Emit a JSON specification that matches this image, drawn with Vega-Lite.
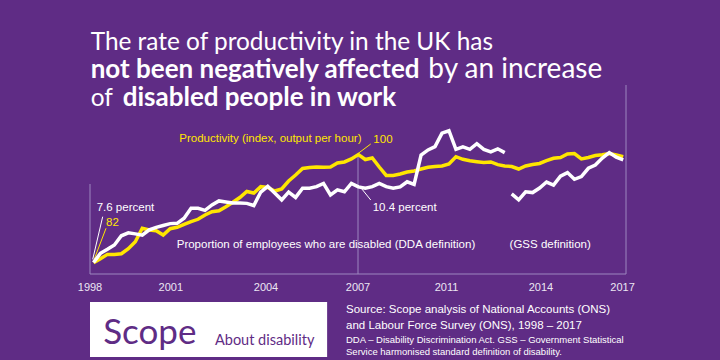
{
  "$schema": "https://vega.github.io/schema/vega-lite/v6.json",
  "width": 536,
  "height": 189,
  "autosize": {"type": "none"},
  "padding": {"left": 90, "top": 85, "right": 94, "bottom": 86},
  "background": "#5f2c85",
  "config": {"view": {"stroke": null}},
  "data": {"name": "series"},
  "datasets": {
    "series": [
      {"q": 0, "series": "productivity", "value": 82.0},
      {"q": 1, "series": "productivity", "value": 82.63},
      {"q": 2, "series": "productivity", "value": 83.37},
      {"q": 3, "series": "productivity", "value": 83.37},
      {"q": 4, "series": "productivity", "value": 83.48},
      {"q": 5, "series": "productivity", "value": 84.32},
      {"q": 6, "series": "productivity", "value": 85.47},
      {"q": 7, "series": "productivity", "value": 87.72},
      {"q": 8, "series": "productivity", "value": 87.43},
      {"q": 9, "series": "productivity", "value": 87.3},
      {"q": 10, "series": "productivity", "value": 86.6},
      {"q": 11, "series": "productivity", "value": 87.65},
      {"q": 12, "series": "productivity", "value": 87.88},
      {"q": 13, "series": "productivity", "value": 88.38},
      {"q": 14, "series": "productivity", "value": 88.82},
      {"q": 15, "series": "productivity", "value": 89.22},
      {"q": 16, "series": "productivity", "value": 89.93},
      {"q": 17, "series": "productivity", "value": 90.48},
      {"q": 18, "series": "productivity", "value": 90.65},
      {"q": 19, "series": "productivity", "value": 91.32},
      {"q": 20, "series": "productivity", "value": 92.05},
      {"q": 21, "series": "productivity", "value": 92.85},
      {"q": 22, "series": "productivity", "value": 93.85},
      {"q": 23, "series": "productivity", "value": 93.6},
      {"q": 24, "series": "productivity", "value": 94.65},
      {"q": 25, "series": "productivity", "value": 94.52},
      {"q": 26, "series": "productivity", "value": 93.93},
      {"q": 27, "series": "productivity", "value": 94.27},
      {"q": 28, "series": "productivity", "value": 95.6},
      {"q": 29, "series": "productivity", "value": 96.6},
      {"q": 30, "series": "productivity", "value": 97.68},
      {"q": 31, "series": "productivity", "value": 97.85},
      {"q": 32, "series": "productivity", "value": 97.93},
      {"q": 33, "series": "productivity", "value": 97.88},
      {"q": 34, "series": "productivity", "value": 97.93},
      {"q": 35, "series": "productivity", "value": 98.6},
      {"q": 36, "series": "productivity", "value": 98.77},
      {"q": 37, "series": "productivity", "value": 99.27},
      {"q": 38, "series": "productivity", "value": 100.0},
      {"q": 39, "series": "productivity", "value": 99.18},
      {"q": 40, "series": "productivity", "value": 99.43},
      {"q": 41, "series": "productivity", "value": 97.93},
      {"q": 42, "series": "productivity", "value": 96.52},
      {"q": 43, "series": "productivity", "value": 96.52},
      {"q": 44, "series": "productivity", "value": 96.77},
      {"q": 45, "series": "productivity", "value": 97.1},
      {"q": 46, "series": "productivity", "value": 97.27},
      {"q": 47, "series": "productivity", "value": 97.6},
      {"q": 48, "series": "productivity", "value": 97.88},
      {"q": 49, "series": "productivity", "value": 98.02},
      {"q": 50, "series": "productivity", "value": 98.1},
      {"q": 51, "series": "productivity", "value": 98.43},
      {"q": 52, "series": "productivity", "value": 99.65},
      {"q": 53, "series": "productivity", "value": 99.22},
      {"q": 54, "series": "productivity", "value": 98.98},
      {"q": 55, "series": "productivity", "value": 98.82},
      {"q": 56, "series": "productivity", "value": 98.68},
      {"q": 57, "series": "productivity", "value": 98.77},
      {"q": 58, "series": "productivity", "value": 98.32},
      {"q": 59, "series": "productivity", "value": 98.1},
      {"q": 60, "series": "productivity", "value": 98.02},
      {"q": 61, "series": "productivity", "value": 97.6},
      {"q": 62, "series": "productivity", "value": 98.1},
      {"q": 63, "series": "productivity", "value": 98.35},
      {"q": 64, "series": "productivity", "value": 98.52},
      {"q": 65, "series": "productivity", "value": 98.98},
      {"q": 66, "series": "productivity", "value": 99.38},
      {"q": 67, "series": "productivity", "value": 99.52},
      {"q": 68, "series": "productivity", "value": 100.1},
      {"q": 69, "series": "productivity", "value": 100.18},
      {"q": 70, "series": "productivity", "value": 99.27},
      {"q": 71, "series": "productivity", "value": 99.52},
      {"q": 72, "series": "productivity", "value": 99.85},
      {"q": 73, "series": "productivity", "value": 99.98},
      {"q": 74, "series": "productivity", "value": 100.18},
      {"q": 75, "series": "productivity", "value": 99.93},
      {"q": 76, "series": "productivity", "value": 99.65},
      {"q": 0, "series": "DDA", "value": 7.6},
      {"q": 1, "series": "DDA", "value": 7.94},
      {"q": 2, "series": "DDA", "value": 8.09},
      {"q": 3, "series": "DDA", "value": 8.25},
      {"q": 4, "series": "DDA", "value": 8.59},
      {"q": 5, "series": "DDA", "value": 8.7},
      {"q": 6, "series": "DDA", "value": 8.66},
      {"q": 7, "series": "DDA", "value": 8.61},
      {"q": 8, "series": "DDA", "value": 8.81},
      {"q": 9, "series": "DDA", "value": 8.9},
      {"q": 10, "series": "DDA", "value": 8.97},
      {"q": 11, "series": "DDA", "value": 9.04},
      {"q": 12, "series": "DDA", "value": 9.05},
      {"q": 13, "series": "DDA", "value": 9.24},
      {"q": 14, "series": "DDA", "value": 9.61},
      {"q": 15, "series": "DDA", "value": 9.61},
      {"q": 16, "series": "DDA", "value": 9.53},
      {"q": 17, "series": "DDA", "value": 9.73},
      {"q": 18, "series": "DDA", "value": 9.88},
      {"q": 19, "series": "DDA", "value": 9.84},
      {"q": 20, "series": "DDA", "value": 9.8},
      {"q": 21, "series": "DDA", "value": 9.8},
      {"q": 22, "series": "DDA", "value": 9.79},
      {"q": 23, "series": "DDA", "value": 9.71},
      {"q": 24, "series": "DDA", "value": 10.21},
      {"q": 25, "series": "DDA", "value": 10.42},
      {"q": 26, "series": "DDA", "value": 10.17},
      {"q": 27, "series": "DDA", "value": 9.92},
      {"q": 28, "series": "DDA", "value": 10.21},
      {"q": 29, "series": "DDA", "value": 10.01},
      {"q": 30, "series": "DDA", "value": 10.35},
      {"q": 31, "series": "DDA", "value": 10.35},
      {"q": 32, "series": "DDA", "value": 10.41},
      {"q": 33, "series": "DDA", "value": 10.53},
      {"q": 34, "series": "DDA", "value": 10.1},
      {"q": 35, "series": "DDA", "value": 10.29},
      {"q": 36, "series": "DDA", "value": 10.22},
      {"q": 37, "series": "DDA", "value": 10.53},
      {"q": 38, "series": "DDA", "value": 10.4},
      {"q": 39, "series": "DDA", "value": 10.35},
      {"q": 40, "series": "DDA", "value": 10.41},
      {"q": 41, "series": "DDA", "value": 10.53},
      {"q": 42, "series": "DDA", "value": 10.41},
      {"q": 43, "series": "DDA", "value": 10.35},
      {"q": 44, "series": "DDA", "value": 10.4},
      {"q": 45, "series": "DDA", "value": 10.59},
      {"q": 46, "series": "DDA", "value": 10.49},
      {"q": 47, "series": "DDA", "value": 11.58},
      {"q": 48, "series": "DDA", "value": 11.77},
      {"q": 49, "series": "DDA", "value": 11.89},
      {"q": 50, "series": "DDA", "value": 12.39},
      {"q": 51, "series": "DDA", "value": 12.48},
      {"q": 52, "series": "DDA", "value": 11.79},
      {"q": 53, "series": "DDA", "value": 11.88},
      {"q": 54, "series": "DDA", "value": 11.79},
      {"q": 55, "series": "DDA", "value": 12.0},
      {"q": 56, "series": "DDA", "value": 11.79},
      {"q": 57, "series": "DDA", "value": 11.7},
      {"q": 58, "series": "DDA", "value": 11.81},
      {"q": 59, "series": "DDA", "value": 11.67},
      {"q": 60, "series": "GSS", "value": 10.14},
      {"q": 61, "series": "GSS", "value": 9.92},
      {"q": 62, "series": "GSS", "value": 10.22},
      {"q": 63, "series": "GSS", "value": 10.19},
      {"q": 64, "series": "GSS", "value": 10.36},
      {"q": 65, "series": "GSS", "value": 10.58},
      {"q": 66, "series": "GSS", "value": 10.47},
      {"q": 67, "series": "GSS", "value": 10.8},
      {"q": 68, "series": "GSS", "value": 10.93},
      {"q": 69, "series": "GSS", "value": 10.68},
      {"q": 70, "series": "GSS", "value": 10.78},
      {"q": 71, "series": "GSS", "value": 11.09},
      {"q": 72, "series": "GSS", "value": 11.21},
      {"q": 73, "series": "GSS", "value": 11.47},
      {"q": 74, "series": "GSS", "value": 11.67},
      {"q": 75, "series": "GSS", "value": 11.5},
      {"q": 76, "series": "GSS", "value": 11.4}
    ],
    "years": [
      {"q": -0.5, "year": "1998"},
      {"q": 11.1, "year": "2001"},
      {"q": 24.75, "year": "2004"},
      {"q": 37.95, "year": "2007"},
      {"q": 50.65, "year": "2011"},
      {"q": 64.2, "year": "2014"},
      {"q": 75.9, "year": "2017"}
    ]
  },
  "layer": [
    {
      "layer": [
        {
          "data": {"values": [{}]},
          "mark": {"type": "rule", "color": "#9d86bf", "strokeWidth": 1},
          "encoding": {
            "x": {"datum": 37.95, "type": "quantitative", "axis": null},
            "y": {"datum": 100, "type": "quantitative", "axis": null, "scale": {"domain": [80.1, 111.6]}},
            "y2": {"datum": 80.1}
          }
        },
        {
          "data": {"values": [{}]},
          "mark": {"type": "rule", "color": "#9d86bf", "strokeWidth": 1},
          "encoding": {
            "x": {"datum": -0.5, "type": "quantitative", "axis": null},
            "y": {"datum": 95.1, "type": "quantitative", "axis": null, "scale": {"domain": [80.1, 111.6]}},
            "y2": {"datum": 80.1}
          }
        },
        {
          "data": {"values": [{}]},
          "mark": {"type": "rule", "color": "#9d86bf", "strokeWidth": 1},
          "encoding": {
            "x": {"datum": 76.4, "type": "quantitative", "axis": null},
            "y": {"datum": 111.6, "type": "quantitative", "axis": null, "scale": {"domain": [80.1, 111.6]}},
            "y2": {"datum": 80.1}
          }
        },
        {
          "data": {"values": [{}]},
          "mark": {"type": "rule", "color": "#9d86bf", "strokeWidth": 1},
          "encoding": {
            "x": {"datum": -0.5, "type": "quantitative", "axis": null},
            "x2": {"datum": 76.4},
            "y": {"datum": 80.1, "type": "quantitative", "axis": null, "scale": {"domain": [80.1, 111.6]}}
          }
        },
        {
          "data": {"name": "years"},
          "mark": {"type": "text", "color": "#ece6f3", "font": "Liberation Sans", "fontSize": 11, "align": "center", "baseline": "alphabetic"},
          "encoding": {
            "x": {"field": "q", "type": "quantitative", "axis": null},
            "y": {"datum": 77.32, "type": "quantitative", "axis": null, "scale": {"domain": [80.1, 111.6]}},
            "text": {"field": "year"}
          }
        },
        {
          "transform": [{"filter": "datum.series === 'productivity'"}],
          "mark": {"type": "line", "color": "#ffe600", "strokeWidth": 3.5},
          "encoding": {
            "x": {"field": "q", "type": "quantitative", "axis": null, "scale": {"domain": [-0.5, 76.4], "nice": false, "zero": false}},
            "y": {"field": "value", "type": "quantitative", "axis": null, "scale": {"domain": [80.1, 111.6], "nice": false, "zero": false}}
          }
        },
        {
          "data": {"values": [{}]},
          "mark": {"type": "rule", "color": "#ffe600", "strokeWidth": 1},
          "encoding": {
            "x": {"datum": 38.0, "type": "quantitative", "axis": null},
            "y": {"datum": 100.22, "type": "quantitative", "axis": null, "scale": {"domain": [80.1, 111.6]}},
            "x2": {"datum": 39.78},
            "y2": {"datum": 101.77}
          }
        },
        {
          "data": {"values": [{}]},
          "mark": {"type": "rule", "color": "#ffffff", "strokeWidth": 1},
          "encoding": {
            "x": {"datum": 38.24, "type": "quantitative", "axis": null},
            "y": {"datum": 94.65, "type": "quantitative", "axis": null, "scale": {"domain": [80.1, 111.6]}},
            "x2": {"datum": 39.78},
            "y2": {"datum": 92.43}
          }
        },
        {
          "data": {"values": [{}]},
          "mark": {"type": "rule", "color": "#ffffff", "strokeWidth": 1},
          "encoding": {
            "x": {"datum": -0.11, "type": "quantitative", "axis": null},
            "y": {"datum": 82.55, "type": "quantitative", "axis": null, "scale": {"domain": [80.1, 111.6]}},
            "x2": {"datum": 1.32},
            "y2": {"datum": 89.65}
          }
        },
        {
          "data": {"values": [{}]},
          "mark": {"type": "rule", "color": "#ffe600", "strokeWidth": 1},
          "encoding": {
            "x": {"datum": -0.03, "type": "quantitative", "axis": null},
            "y": {"datum": 82.15, "type": "quantitative", "axis": null, "scale": {"domain": [80.1, 111.6]}},
            "x2": {"datum": 1.8},
            "y2": {"datum": 87.72}
          }
        },
        {
          "data": {"values": [{}]},
          "mark": {"type": "text", "text": "Productivity (index, output per hour)", "color": "#ffe600", "font": "Liberation Sans", "fontSize": 11.5, "align": "left", "baseline": "alphabetic"},
          "encoding": {
            "x": {"datum": 12.31, "type": "quantitative", "axis": null},
            "y": {"datum": 102.15, "type": "quantitative", "axis": null, "scale": {"domain": [80.1, 111.6]}}
          }
        },
        {
          "data": {"values": [{}]},
          "mark": {"type": "text", "text": "100", "color": "#ffe600", "font": "Liberation Sans", "fontSize": 11.5, "align": "left", "baseline": "alphabetic"},
          "encoding": {
            "x": {"datum": 40.15, "type": "quantitative", "axis": null},
            "y": {"datum": 101.88, "type": "quantitative", "axis": null, "scale": {"domain": [80.1, 111.6]}}
          }
        },
        {
          "data": {"values": [{}]},
          "mark": {"type": "text", "text": "10.4 percent", "color": "#ffffff", "font": "Liberation Sans", "fontSize": 11.5, "align": "left", "baseline": "alphabetic"},
          "encoding": {
            "x": {"datum": 40.06, "type": "quantitative", "axis": null},
            "y": {"datum": 90.65, "type": "quantitative", "axis": null, "scale": {"domain": [80.1, 111.6]}}
          }
        },
        {
          "data": {"values": [{}]},
          "mark": {"type": "text", "text": "7.6 percent", "color": "#ffffff", "font": "Liberation Sans", "fontSize": 11.5, "align": "left", "baseline": "alphabetic"},
          "encoding": {
            "x": {"datum": 0.46, "type": "quantitative", "axis": null},
            "y": {"datum": 90.65, "type": "quantitative", "axis": null, "scale": {"domain": [80.1, 111.6]}}
          }
        },
        {
          "data": {"values": [{}]},
          "mark": {"type": "text", "text": "82", "color": "#ffe600", "font": "Liberation Sans", "fontSize": 11.5, "align": "left", "baseline": "alphabetic"},
          "encoding": {
            "x": {"datum": 1.8, "type": "quantitative", "axis": null},
            "y": {"datum": 88.1, "type": "quantitative", "axis": null, "scale": {"domain": [80.1, 111.6]}}
          }
        },
        {
          "data": {"values": [{}]},
          "mark": {"type": "text", "text": "Proportion of employees who are disabled (DDA definition)", "color": "#ffffff", "font": "Liberation Sans", "fontSize": 11.5, "align": "left", "baseline": "alphabetic"},
          "encoding": {
            "x": {"datum": 11.94, "type": "quantitative", "axis": null},
            "y": {"datum": 84.38, "type": "quantitative", "axis": null, "scale": {"domain": [80.1, 111.6]}}
          }
        },
        {
          "data": {"values": [{}]},
          "mark": {"type": "text", "text": "(GSS definition)", "color": "#ffffff", "font": "Liberation Sans", "fontSize": 11.5, "align": "left", "baseline": "alphabetic"},
          "encoding": {
            "x": {"datum": 59.7, "type": "quantitative", "axis": null},
            "y": {"datum": 84.38, "type": "quantitative", "axis": null, "scale": {"domain": [80.1, 111.6]}}
          }
        },
        {
          "data": {"values": [{}]},
          "mark": {"type": "text", "text": "The rate of productivity in the UK has", "color": "#ffffff", "font": "Lato", "fontSize": 24.4, "align": "left", "baseline": "alphabetic"},
          "encoding": {
            "x": {"datum": -0.4, "type": "quantitative", "axis": null},
            "y": {"datum": 117.43, "type": "quantitative", "axis": null, "scale": {"domain": [80.1, 111.6]}}
          }
        },
        {
          "data": {"values": [{}]},
          "mark": {"type": "text", "text": "not been negatively affected", "color": "#ffffff", "font": "Lato", "fontWeight": "bold", "fontSize": 26, "align": "left", "baseline": "alphabetic"},
          "encoding": {
            "x": {"datum": -0.4, "type": "quantitative", "axis": null},
            "y": {"datum": 112.82, "type": "quantitative", "axis": null, "scale": {"domain": [80.1, 111.6]}}
          }
        },
        {
          "data": {"values": [{}]},
          "mark": {"type": "text", "text": "by an increase", "color": "#ffffff", "font": "Lato", "fontSize": 28, "align": "left", "baseline": "alphabetic"},
          "encoding": {
            "x": {"datum": 48.04, "type": "quantitative", "axis": null},
            "y": {"datum": 112.82, "type": "quantitative", "axis": null, "scale": {"domain": [80.1, 111.6]}}
          }
        },
        {
          "data": {"values": [{}]},
          "mark": {"type": "text", "text": "of", "color": "#ffffff", "font": "Lato", "fontSize": 24.4, "align": "left", "baseline": "alphabetic"},
          "encoding": {
            "x": {"datum": -0.4, "type": "quantitative", "axis": null},
            "y": {"datum": 108.15, "type": "quantitative", "axis": null, "scale": {"domain": [80.1, 111.6]}}
          }
        },
        {
          "data": {"values": [{}]},
          "mark": {"type": "text", "text": "disabled people in work", "color": "#ffffff", "font": "Lato", "fontWeight": "bold", "fontSize": 26, "align": "left", "baseline": "alphabetic"},
          "encoding": {
            "x": {"datum": 4.19, "type": "quantitative", "axis": null},
            "y": {"datum": 108.15, "type": "quantitative", "axis": null, "scale": {"domain": [80.1, 111.6]}}
          }
        },
        {
          "data": {"values": [{}]},
          "mark": {"type": "rect", "color": "#ffffff"},
          "encoding": {
            "x": {"datum": -0.5, "type": "quantitative", "axis": null},
            "x2": {"datum": 33.52},
            "y": {"datum": 75.42, "type": "quantitative", "axis": null, "scale": {"domain": [80.1, 111.6]}},
            "y2": {"datum": 66.27}
          }
        },
        {
          "data": {"values": [{}]},
          "mark": {"type": "text", "text": "Scope", "color": "#5f2c85", "font": "Lato", "fontSize": 35, "align": "left", "baseline": "alphabetic"},
          "encoding": {
            "x": {"datum": 1.39, "type": "quantitative", "axis": null},
            "y": {"datum": 68.4, "type": "quantitative", "axis": null, "scale": {"domain": [80.1, 111.6]}}
          }
        },
        {
          "data": {"values": [{}]},
          "mark": {"type": "text", "text": "About disability", "color": "#5f2c85", "font": "Lato", "fontSize": 14.5, "align": "left", "baseline": "alphabetic"},
          "encoding": {
            "x": {"datum": 17.43, "type": "quantitative", "axis": null},
            "y": {"datum": 68.27, "type": "quantitative", "axis": null, "scale": {"domain": [80.1, 111.6]}}
          }
        },
        {
          "data": {"values": [{}]},
          "mark": {"type": "text", "text": "Source: Scope analysis of National Accounts (ONS)", "color": "#ffffff", "font": "Liberation Sans", "fontSize": 11.5, "align": "left", "baseline": "alphabetic"},
          "encoding": {
            "x": {"datum": 36.23, "type": "quantitative", "axis": null},
            "y": {"datum": 73.62, "type": "quantitative", "axis": null, "scale": {"domain": [80.1, 111.6]}}
          }
        },
        {
          "data": {"values": [{}]},
          "mark": {"type": "text", "text": "and Labour Force Survey (ONS), 1998 – 2017", "color": "#ffffff", "font": "Liberation Sans", "fontSize": 11.5, "align": "left", "baseline": "alphabetic"},
          "encoding": {
            "x": {"datum": 36.23, "type": "quantitative", "axis": null},
            "y": {"datum": 70.93, "type": "quantitative", "axis": null, "scale": {"domain": [80.1, 111.6]}}
          }
        },
        {
          "data": {"values": [{}]},
          "mark": {"type": "text", "text": "DDA – Disability Discrimination Act. GSS – Government Statistical", "color": "#ffffff", "font": "Liberation Sans", "fontSize": 9.5, "align": "left", "baseline": "alphabetic"},
          "encoding": {
            "x": {"datum": 36.23, "type": "quantitative", "axis": null},
            "y": {"datum": 68.57, "type": "quantitative", "axis": null, "scale": {"domain": [80.1, 111.6]}}
          }
        },
        {
          "data": {"values": [{}]},
          "mark": {"type": "text", "text": "Service harmonised standard definition of disability.", "color": "#ffffff", "font": "Liberation Sans", "fontSize": 9.5, "align": "left", "baseline": "alphabetic"},
          "encoding": {
            "x": {"datum": 36.23, "type": "quantitative", "axis": null},
            "y": {"datum": 66.6, "type": "quantitative", "axis": null, "scale": {"domain": [80.1, 111.6]}}
          }
        }
      ]
    },
    {
      "transform": [{"filter": "datum.series !== 'productivity'"}],
      "mark": {"type": "line", "color": "#ffffff", "strokeWidth": 3.5},
      "encoding": {
        "x": {"field": "q", "type": "quantitative", "axis": null},
        "y": {"field": "value", "type": "quantitative", "axis": null, "scale": {"domain": [7.174, 14.174], "nice": false, "zero": false}},
        "detail": {"field": "series"}
      }
    }
  ],
  "resolve": {"scale": {"y": "independent"}}
}
